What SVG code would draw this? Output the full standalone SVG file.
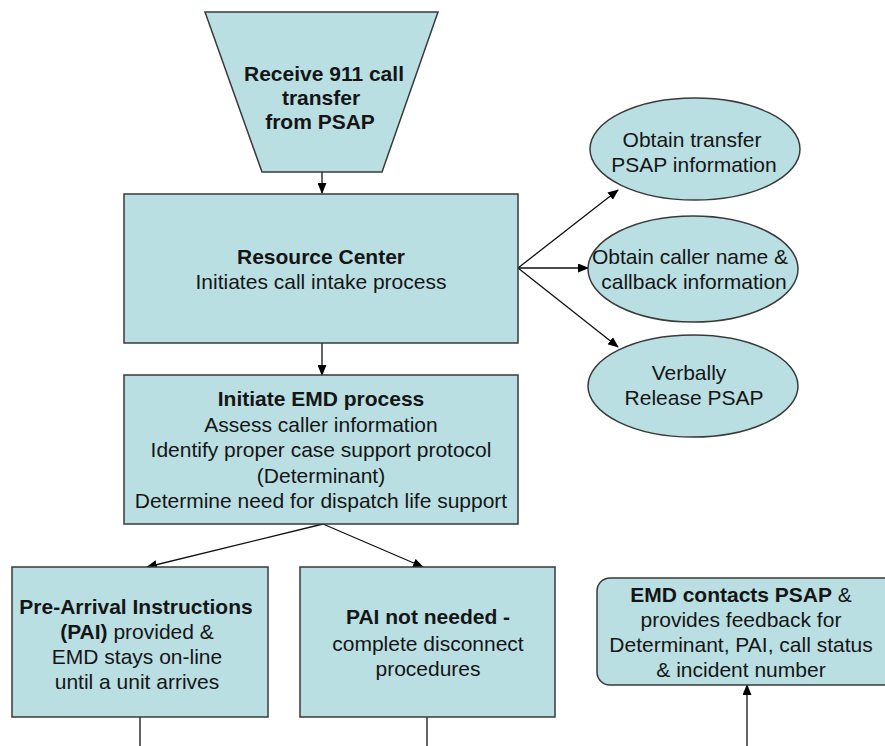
<svg xmlns="http://www.w3.org/2000/svg" width="885" height="746" viewBox="0 0 885 746">
<defs>
<marker id="ah" markerWidth="11" markerHeight="9" refX="10" refY="4.5" orient="auto" markerUnits="userSpaceOnUse">
<path d="M0,0 L11,4.5 L0,9 z" fill="#000"/>
</marker>
<style>
.n{fill:#B9DFE3;stroke:#3a3a3a;stroke-width:1.5}
.t{font-family:"Liberation Sans",Arial,sans-serif;font-size:21px;fill:#151515;text-anchor:middle}
.b{font-weight:bold}
.c{stroke:#111;stroke-width:1.3;fill:none}
</style>
</defs>
<rect width="885" height="746" fill="#fff"/>
<g id="connectors">
<line class="c" x1="322" y1="172" x2="322" y2="193" marker-end="url(#ah)"/>
<line class="c" x1="322" y1="343" x2="322" y2="375" marker-end="url(#ah)"/>
<line class="c" x1="518" y1="268" x2="618" y2="190" marker-end="url(#ah)"/>
<line class="c" x1="518" y1="268" x2="588" y2="268" marker-end="url(#ah)"/>
<line class="c" x1="518" y1="268" x2="618" y2="347" marker-end="url(#ah)"/>
<line class="c" x1="323" y1="524" x2="147" y2="567" marker-end="url(#ah)"/>
<line class="c" x1="323" y1="524" x2="423" y2="567" marker-end="url(#ah)"/>
<line class="c" x1="140" y1="717" x2="140" y2="746"/>
<line class="c" x1="427" y1="717" x2="427" y2="746"/>
<line class="c" x1="747" y1="746" x2="747" y2="685" marker-end="url(#ah)"/>
</g>
<g id="receive">
<polygon class="n" points="205,12 438,12 382,172 262,172"/>
<text class="t b" x="324" y="81">Receive 911 call</text>
<text class="t b" x="321" y="105">transfer</text>
<text class="t b" x="320" y="129">from PSAP</text>
</g>
<g id="resource">
<rect class="n" x="124" y="194" width="394" height="149"/>
<text class="t b" x="321" y="264">Resource Center</text>
<text class="t" x="321" y="289">Initiates call intake process</text>
</g>
<g id="emd">
<rect class="n" x="124" y="375" width="394" height="149"/>
<text class="t b" x="321" y="406">Initiate EMD process</text>
<text class="t" x="321" y="432">Assess caller information</text>
<text class="t" x="321" y="457">Identify proper case support protocol</text>
<text class="t" x="321" y="483">(Determinant)</text>
<text class="t" x="321" y="508">Determine need for dispatch life support</text>
</g>
<g id="obtain-transfer">
<ellipse class="n" cx="695" cy="149" rx="105" ry="51"/>
<text class="t" x="692" y="147">Obtain transfer</text>
<text class="t" x="694" y="172">PSAP information</text>
</g>
<g id="obtain-caller">
<ellipse class="n" cx="693" cy="269" rx="105" ry="53"/>
<text class="t" x="690" y="264">Obtain caller name &amp;</text>
<text class="t" x="694" y="289">callback information</text>
</g>
<g id="release">
<ellipse class="n" cx="693" cy="386" rx="105" ry="51"/>
<text class="t" x="689" y="380">Verbally</text>
<text class="t" x="694" y="405">Release PSAP</text>
</g>
<g id="pai">
<rect class="n" x="12" y="567" width="256" height="150"/>
<text class="t b" x="136" y="614">Pre-Arrival Instructions</text>
<text class="t" x="137" y="639"><tspan class="b">(PAI)</tspan> provided &amp;</text>
<text class="t" x="137" y="664">EMD stays on-line</text>
<text class="t" x="137" y="689">until a unit arrives</text>
</g>
<g id="pai-not-needed">
<rect class="n" x="300" y="567" width="255" height="150"/>
<text class="t b" x="428" y="624">PAI not needed -</text>
<text class="t" x="428" y="651">complete disconnect</text>
<text class="t" x="428" y="676">procedures</text>
</g>
<g id="emd-contacts">
<rect class="n" x="597" y="578" width="300" height="107" rx="13" ry="13"/>
<text class="t" x="741" y="602"><tspan class="b">EMD contacts PSAP</tspan> &amp;</text>
<text class="t" x="741" y="627">provides feedback for</text>
<text class="t" x="741" y="652">Determinant, PAI, call status</text>
<text class="t" x="741" y="677">&amp; incident number</text>
</g>
</svg>
